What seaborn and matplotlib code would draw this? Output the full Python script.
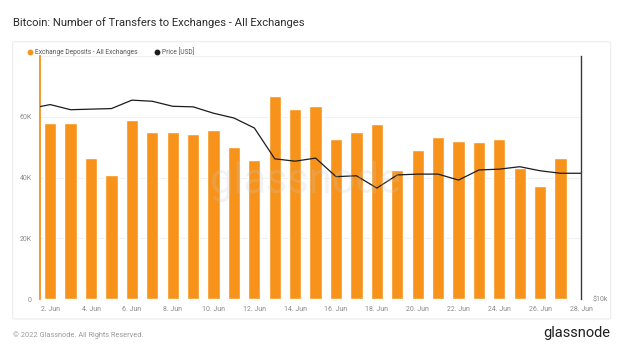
import numpy as np
import pandas as pd
import matplotlib.pyplot as plt
import matplotlib.patches as mpatches
from matplotlib.lines import Line2D
import seaborn as sns

# data (June 2022)
bar_days = list(range(2, 28))
deposits = [57.9, 57.8, 46.4, 40.8, 59.0, 55.1, 55.1, 54.3, 55.8, 50.2, 45.9, 66.7, 62.4,
            63.5, 52.7, 54.9, 57.5, 42.6, 49.2, 53.2, 52.0, 51.8, 52.6, 43.2, 37.3, 46.5]
deposits = [v * 1000 for v in deposits]

price_days = list(range(1, 29))
price = [30.1, 30.8, 29.9, 30.0, 30.1, 31.6, 31.4, 30.5, 30.4, 29.3, 28.5, 26.9, 22.5, 22.2,
         22.6, 20.3, 20.4, 19.0, 20.5, 20.6, 20.6, 19.9, 21.1, 21.2, 21.5, 21.0, 20.7, 20.7]
price = [v * 1000 for v in price]

tick_days = list(range(2, 29, 2))
tick_labels = [f"{d}. Jun" for d in tick_days]

ORANGE = "#F7931A"
DARK = "#1c1c1c"
GRAY = "#8a8a8a"

sns.set_theme(style="white")
plt.rcParams['font.family'] = ['Roboto', 'DejaVu Sans']

W, H = 624, 351
fig = plt.figure(figsize=(W / 100, H / 100), dpi=100)

# panel frame
panel = mpatches.FancyBboxPatch((12.7 / W, 1 - 319 / H), (610.7 - 12.7) / W, (319 - 41.7) / H,
                                boxstyle="round,pad=0,rounding_size=0.004",
                                transform=fig.transFigure, facecolor="white",
                                edgecolor="#ececec", lw=0.8, zorder=-5)
fig.add_artist(panel)

ax = fig.add_axes([40 / W, 1 - 299 / H, (581 - 40) / W, (299 - 56) / H])
ax.set_facecolor("none")

df = pd.DataFrame({"day": bar_days, "deposits": deposits})
sns.barplot(data=df, x="day", y="deposits", native_scale=True, width=0.6,
            color=ORANGE, saturation=1, ax=ax, zorder=2)

ax.set_ylim(0, 80000)
ax.set_yticks([0, 20000, 40000, 60000, 80000])
ax.set_yticklabels(["0", "20K", "40K", "60K", ""])
ax.set_xlim(1.5, 28.0)
ax.set_xticks(tick_days)
ax.set_xticklabels(tick_labels)
ax.tick_params(axis="both", length=0, labelsize=5, labelcolor=GRAY)
ax.tick_params(axis="y", pad=6)
ax.tick_params(axis="x", pad=5)
ax.grid(axis="y", color="#f1f1f1", lw=0.8, zorder=0)
ax.set_axisbelow(True)
ax.set_xlabel("")
ax.set_ylabel("")
for s in ["top", "bottom", "right"]:
    ax.spines[s].set_visible(False)
ax.spines["left"].set_color(ORANGE)
ax.spines["left"].set_linewidth(1.3)

ax2 = ax.twinx()
sns.lineplot(x=price_days, y=price, ax=ax2, color=DARK, lw=0.9, zorder=3)
ax2.set_yscale("log")
ax2.set_ylim(10000, 40800)
ax2.set_yticks([10000])
ax2.set_yticklabels(["$10k"])
ax2.yaxis.set_minor_locator(plt.NullLocator())
ax2.tick_params(axis="y", length=0, labelsize=5, labelcolor=GRAY, pad=8)
ax2.set_xlim(1.5, 28.0)
ax2.set_ylabel("")
for s in ["top", "bottom", "left"]:
    ax2.spines[s].set_visible(False)
ax2.spines["right"].set_color("#3a3a3a")
ax2.spines["right"].set_linewidth(1.0)

# watermark
fig.text(305 / W, 1 - 182 / H, "glassnode", fontsize=30, color="#c8c8c8", alpha=0.22,
         ha="center", va="center", zorder=10)

# title
fig.text(13 / W, 1 - 22.7 / H, "Bitcoin: Number of Transfers to Exchanges - All Exchanges",
         fontsize=8.1, color="#2b2b2b", ha="left", va="center")

# legend
ly = 1 - 51.7 / H
fig.add_artist(Line2D([30 / W], [ly], marker="o", ms=3.2, color=ORANGE, lw=0,
                      transform=fig.transFigure))
fig.text(35 / W, ly - 0.8 / H, "Exchange Deposits - All Exchanges", fontsize=4.8,
         color="#555555", ha="left", va="center")
fig.add_artist(Line2D([156.7 / W], [ly], marker="o", ms=3.2, color=DARK, lw=0,
                      transform=fig.transFigure))
fig.text(161.7 / W, ly - 0.8 / H, "Price [USD]", fontsize=4.8, color="#555555",
         ha="left", va="center")

# footer
fig.text(13 / W, 1 - 335 / H, "\u00a9 2022 Glassnode. All Rights Reserved.", fontsize=5.3,
         color="#9a9a9a", ha="left", va="center")
fig.text(610 / W, 1 - 333 / H, "glassnode", fontsize=10.5, color="#1e1e1e",
         ha="right", va="center")

fig.savefig("out.png", dpi=100)
